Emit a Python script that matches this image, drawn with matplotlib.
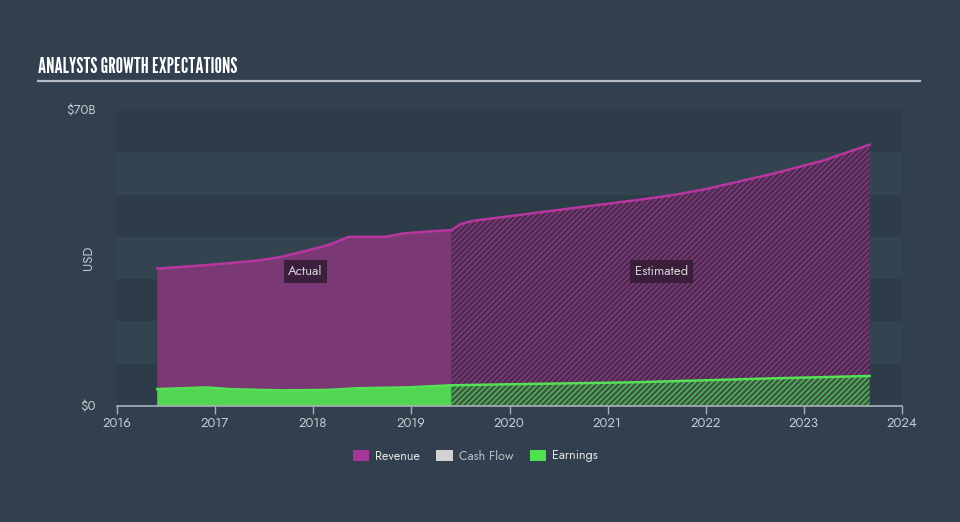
import numpy as np
import matplotlib
matplotlib.use("Agg")
import matplotlib.pyplot as plt
from matplotlib.patches import Patch

# Revenue, $B (actual + analyst estimates)
rev_years_act = [2016.41, 2016.9, 2017.4, 2017.66, 2017.93, 2018.17, 2018.36, 2018.73, 2018.92, 2019.19, 2019.41]
rev_act = [32.5, 33.3, 34.3, 35.2, 36.7, 38.2, 40.0, 40.0, 40.8, 41.3, 41.6]
rev_years_est = [2019.41, 2019.5, 2019.63, 2019.97, 2020.65, 2021.33, 2021.7, 2022.0, 2022.68, 2023.19, 2023.67]
rev_est = [41.6, 43.0, 43.8, 44.8, 46.8, 48.8, 50.0, 51.3, 54.9, 58.0, 61.8]

# Earnings, $B
earn_years_act = [2016.41, 2016.91, 2017.15, 2017.66, 2018.14, 2018.44, 2018.95, 2019.41]
earn_act = [4.0, 4.4, 4.0, 3.7, 3.8, 4.2, 4.4, 4.9]
earn_years_est = [2019.41, 2019.9, 2021.26, 2022.62, 2023.67]
earn_est = [4.9, 5.1, 5.6, 6.5, 7.1]

year_ticks = list(range(2016, 2025))
y_ticks = [0, 70]
y_labels = ["$0", "$70B"]

bg = "#323f4e"
band_dark = "#2e3b49"
band_light = "#344350"
txt = "#c9cdd2"

plt.rcParams["hatch.linewidth"] = 0.9
plt.rcParams["font.family"] = ["Jost", "DejaVu Sans"]

fig = plt.figure(figsize=(9.6, 5.22), dpi=100, facecolor=bg)
ax = fig.add_axes([117 / 960, 1 - 406 / 522, (902 - 117) / 960, (406 - 110) / 522])
ax.set_facecolor(bg)

# alternating background bands
for i, lo in enumerate(range(0, 70, 10)):
    ax.axhspan(lo, lo + 10, color=band_dark if i % 2 == 0 else band_light, lw=0, zorder=0)

# revenue
ax.fill_between(rev_years_act, 0, rev_act, facecolor="#7a3974", lw=0, zorder=1)
ax.fill_between(rev_years_est, 0, rev_est, facecolor="#4a2c4f", edgecolor="#8e3a86",
                hatch="//////", lw=0, zorder=1)
ax.plot(rev_years_act + rev_years_est[1:], rev_act + rev_est[1:], color="#b8369f", lw=1.8, zorder=3)

# earnings
ax.fill_between(earn_years_act, 0, earn_act, facecolor="#51d552", lw=0, zorder=2)
ax.fill_between(earn_years_est, 0, earn_est, facecolor="#3a5a44", edgecolor="#5cc35c",
                hatch="//////", lw=0, zorder=2)
ax.plot(earn_years_act + earn_years_est[1:], earn_act + earn_est[1:], color="#55e055", lw=1.8, zorder=3)

ax.set_xlim(2016, 2024)
ax.set_ylim(0, 70)
ax.set_xticks(year_ticks)
ax.set_xticklabels([str(y) for y in year_ticks], color=txt, fontsize=9.5)
ax.set_yticks(y_ticks)
ax.set_yticklabels(y_labels, color=txt, fontsize=9.5)
ax.tick_params(axis="y", length=0, pad=15)
ax.tick_params(axis="x", length=6, color="#a9b1b9", width=1, pad=2)
for s in ["top", "right", "left"]:
    ax.spines[s].set_visible(False)
ax.spines["bottom"].set_color("#a9b1b9")
ax.spines["bottom"].set_linewidth(1.2)
ax.set_ylabel("USD", color=txt, fontsize=9.5)
ax.yaxis.set_label_coords(-0.028, 0.5)

box = dict(boxstyle="square,pad=0.35", facecolor="#361d36", edgecolor="none", alpha=0.9)
ax.text(2017.92, 31.8, "Actual", color="#d4d0d6", fontsize=9.5, ha="center", va="center", bbox=box, zorder=5)
ax.text(2021.55, 31.8, "Estimated", color="#d4d0d6", fontsize=9.5, ha="center", va="center", bbox=box, zorder=5)

# title + rule
fig.text(38 / 960, 1 - 67 / 522, "ANALYSTS GROWTH EXPECTATIONS", color="white", fontsize=15,
         family=["League Gothic", "DejaVu Sans"], va="center", ha="left")
fig.add_artist(plt.Line2D([38 / 960, 920 / 960], [1 - 81 / 522, 1 - 81 / 522], color="#b4bbc2", lw=1.6))

handles = [Patch(facecolor="#a8359a", edgecolor="none"),
           Patch(facecolor="#d2d2d2", edgecolor="none"),
           Patch(facecolor="#4fe04f", edgecolor="none")]
leg = fig.legend(handles, ["Revenue", "Cash Flow", "Earnings"], loc="center", ncol=3,
                 bbox_to_anchor=(0.495, 1 - 456 / 522), frameon=False, fontsize=9,
                 handlelength=1.3, handleheight=1.0, columnspacing=1.3, handletextpad=0.5)
for t, c in zip(leg.get_texts(), ["#e4e4e4", "#b8bec4", "#e4e4e4"]):
    t.set_color(c)

fig.savefig("out.png", dpi=100, facecolor=bg)
